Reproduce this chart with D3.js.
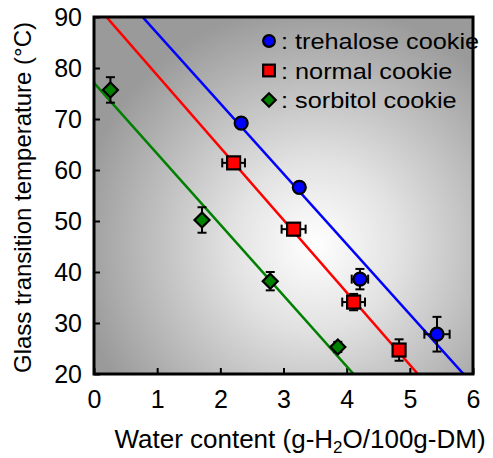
<!DOCTYPE html>
<html>
<head>
<meta charset="utf-8">
<script src="https://cdn.jsdelivr.net/npm/d3@7"></script>
<style>
  html, body { margin: 0; padding: 0; background: #fff; }
  svg { display: block; font-family: Arial, "Liberation Sans", sans-serif; }
</style>
</head>
<body>
<svg id="chart" width="493" height="458"></svg>
<script>
// Water content (g-H2O/100g-DM) and glass transition temperature (°C)
const trehaloseX   = [2.33, 3.25, 4.21, 5.43];
const trehaloseY   = [69.2, 56.6, 38.6, 27.8];
const trehaloseXErr = [0.05, 0.05, 0.13, 0.20];
const trehaloseYErr = [0.8, 0.6, 2.0, 3.4];

const normalX   = [2.21, 3.16, 4.11, 4.83];
const normalY   = [61.4, 48.4, 34.1, 24.7];
const normalXErr = [0.18, 0.19, 0.18, 0.05];
const normalYErr = [1.0, 1.2, 1.6, 2.1];

const sorbitolX   = [0.26, 1.71, 2.79, 3.86];
const sorbitolY   = [75.7, 50.2, 38.2, 25.3];
const sorbitolXErr = [0.03, 0.03, 0.05, 0.05];
const sorbitolYErr = [2.5, 2.5, 1.8, 1.0];

// Linear fits: Tg = intercept + slope * water
const fitIntercepts = [100.6, 92.8, 77.1];
const fitSlopes     = [-13.78, -14.2, -13.9];

const seriesNames  = ["trehalose cookie", "normal cookie", "sorbitol cookie"];
const seriesColors = ["#0000ff", "#ff0000", "#008000"];
const seriesShapes = ["circle", "square", "diamond"];

const xTicks = [0, 1, 2, 3, 4, 5, 6];
const yTicks = [20, 30, 40, 50, 60, 70, 80, 90];

const svg = d3.select("#chart");
const L = 94, R = 473, T = 17, B = 374;

const x = d3.scaleLinear().domain([0, 6]).range([L, R]);
const y = d3.scaleLinear().domain([20, 90]).range([B, T]);

// Background shading
const defs = svg.append("defs");
const grad = defs.append("radialGradient")
  .attr("id", "bg").attr("gradientUnits", "userSpaceOnUse")
  .attr("cx", 315).attr("cy", 245).attr("r", 240);
grad.append("stop").attr("offset", "0%").attr("stop-color", "#ffffff");
grad.append("stop").attr("offset", "35%").attr("stop-color", "#e2e2e2");
grad.append("stop").attr("offset", "100%").attr("stop-color", "#9a9a9a");

defs.append("clipPath").attr("id", "plotClip")
  .append("rect").attr("x", L).attr("y", T).attr("width", R - L).attr("height", B - T);

svg.append("rect").attr("x", L).attr("y", T).attr("width", R - L).attr("height", B - T)
  .attr("fill", "url(#bg)");

// Axes (ticks pointing inward)
const xAxis = svg.append("g").attr("transform", `translate(0,${B})`)
  .call(d3.axisBottom(x).tickValues(xTicks).tickSize(-6).tickPadding(16).tickFormat(d3.format("d")));
const yAxis = svg.append("g").attr("transform", `translate(${L},0)`)
  .call(d3.axisLeft(y).tickValues(yTicks).tickSize(-6).tickPadding(12).tickFormat(d3.format("d")));
[xAxis, yAxis].forEach(g => {
  g.select(".domain").remove();
  g.selectAll(".tick line").attr("stroke", "#000").attr("stroke-width", 2);
  g.selectAll(".tick text").attr("fill", "#000").attr("font-size", 25)
    .attr("font-family", "Arial, 'Liberation Sans', sans-serif");
});
xAxis.selectAll(".tick text").attr("dy", "0.71em");

// Fit lines
const plot = svg.append("g").attr("clip-path", "url(#plotClip)");
fitIntercepts.forEach((b, i) => {
  const m = fitSlopes[i];
  plot.append("line")
    .attr("x1", x(0)).attr("y1", y(b))
    .attr("x2", x(6)).attr("y2", y(b + m * 6))
    .attr("stroke", seriesColors[i]).attr("stroke-width", 2.5);
});

// Markers with error bars
const sets = [
  { xs: trehaloseX, ys: trehaloseY, xe: trehaloseXErr, ye: trehaloseYErr },
  { xs: normalX, ys: normalY, xe: normalXErr, ye: normalYErr },
  { xs: sorbitolX, ys: sorbitolY, xe: sorbitolXErr, ye: sorbitolYErr }
];

function drawMarker(g, shape, cx, cy, color, size) {
  const k = size || 1;
  if (shape === "circle") {
    g.append("circle").attr("cx", cx).attr("cy", cy).attr("r", 6.5 * k)
      .attr("fill", color).attr("stroke", "#000").attr("stroke-width", 2.2);
  } else if (shape === "square") {
    const h = 6.5 * k;
    g.append("rect").attr("x", cx - h).attr("y", cy - h).attr("width", 2 * h).attr("height", 2 * h)
      .attr("fill", color).attr("stroke", "#000").attr("stroke-width", 2.2);
  } else {
    const s = 7.5 * k;
    g.append("path").attr("d", `M${cx},${cy - s}L${cx + s},${cy}L${cx},${cy + s}L${cx - s},${cy}Z`)
      .attr("fill", color).attr("stroke", "#000").attr("stroke-width", 2.2);
  }
}

const cap = 4.5;
sets.forEach((s, i) => {
  const g = svg.append("g");
  s.xs.forEach((xv, j) => {
    const yv = s.ys[j], cx = x(xv), cy = y(yv);
    const y0 = y(yv - s.ye[j]), y1 = y(yv + s.ye[j]);
    const x0 = x(xv - s.xe[j]), x1 = x(xv + s.xe[j]);
    const eb = g.append("g").attr("stroke", "#000").attr("stroke-width", 2);
    eb.append("line").attr("x1", cx).attr("x2", cx).attr("y1", y0).attr("y2", y1);
    eb.append("line").attr("x1", cx - cap).attr("x2", cx + cap).attr("y1", y0).attr("y2", y0);
    eb.append("line").attr("x1", cx - cap).attr("x2", cx + cap).attr("y1", y1).attr("y2", y1);
    eb.append("line").attr("x1", x0).attr("x2", x1).attr("y1", cy).attr("y2", cy);
    eb.append("line").attr("x1", x0).attr("x2", x0).attr("y1", cy - cap).attr("y2", cy + cap);
    eb.append("line").attr("x1", x1).attr("x2", x1).attr("y1", cy - cap).attr("y2", cy + cap);
    drawMarker(g, seriesShapes[i], cx, cy, seriesColors[i]);
  });
});

// Legend
const legend = svg.append("g");
seriesNames.forEach((name, i) => {
  const ly = 41 + i * 29.5;
  drawMarker(legend, seriesShapes[i], 269, ly, seriesColors[i], 0.9);
  legend.append("text")
    .attr("transform", `translate(281,${ly + 8}) scale(1.15,1)`)
    .attr("font-size", 22).attr("fill", "#000").text(": " + name);
});

// Plot frame
svg.append("rect").attr("x", L).attr("y", T).attr("width", R - L).attr("height", B - T)
  .attr("fill", "none").attr("stroke", "#000").attr("stroke-width", 3);

// Axis titles
const xt = svg.append("text").attr("x", 300).attr("y", 448).attr("text-anchor", "middle")
  .attr("font-size", 26).attr("fill", "#000");
xt.append("tspan").text("Water content (g-H");
xt.append("tspan").attr("font-size", 17).attr("dy", 5).text("2");
xt.append("tspan").attr("dy", -5).text("O/100g-DM)");

svg.append("text").attr("transform", `translate(31,${(T + B) / 2 + 2}) rotate(-90)`)
  .attr("text-anchor", "middle").attr("font-size", 24).attr("fill", "#000")
  .text("Glass transition temperature (°C)");
</script>
</body>
</html>
